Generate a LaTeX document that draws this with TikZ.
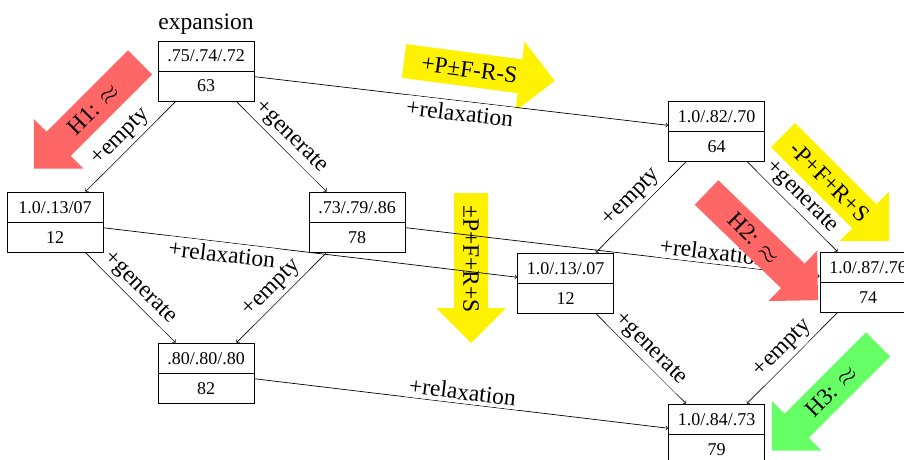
\documentclass[tikz,border=0pt]{standalone}
\usepackage{fontspec}
\setmainfont{Liberation Serif}
% #1 name, #2 colour, #3 x, #4 y, #5 direction, #6 text angle, #7 length, #8 text
\newcommand\bigarrow[8]{%
  \begin{scope}[shift={(#3,#4)}, rotate=#5]
    \fill[#2] (0,-17) -- ({#7-35},-17) -- ({#7-35},-35) -- (#7,0) -- ({#7-35},35) -- ({#7-35},17) -- (0,17) -- cycle;
    \node[bigtext, rotate=#6] (#1) at (66,0) {#8};
  \end{scope}}
% #1 name, #2 x, #3 y, #4 top text, #5 bottom text
\newcommand\statenode[5]{%
  \node[statebox] (#1) at (#2,#3) {};
  \draw[line width=0.8pt] (#1.west) -- (#1.east);
  \node[boxtext] (#1top) at ([yshift=15pt]#1.center) {#4};
  \node[boxtext] (#1bot) at ([yshift=-15pt]#1.center) {#5};}
\begin{document}
\begin{tikzpicture}[x=1pt,y=1pt,
  statebox/.style={draw, line width=0.8pt, fill=white, minimum width=96pt, minimum height=60pt, inner sep=0pt},
  boxtext/.style={font=\fontsize{18}{21.6}\selectfont, inner sep=0pt, text height=12.5pt, text depth=0.5pt},
  edge/.style={->, line width=0.7pt},
  lab/.style={font=\fontsize{23.5}{28}\selectfont, sloped, fill=white},
  bigtext/.style={font=\fontsize{23.5}{28}\selectfont, inner sep=0pt}
]
\useasboundingbox (0,0) rectangle (904,-460);

% background hint arrows
\bigarrow{Yone}{yellow}{404}{-61}{-7.5}{-7.5}{152}{+P±F-R-S}
\bigarrow{Ytwo}{yellow}{471}{-193}{-90}{-90}{150}{±P+F+R+S}
\bigarrow{Ythree}{yellow}{783}{-135}{-45}{-45}{150}{-P+F+R+S}
\bigarrow{Hone}{red!60}{140}{-62.5}{225}{45}{150}{H1: $\approx$}
\bigarrow{Hthree}{green!60}{878}{-344.5}{225}{45}{150}{H3: $\approx$}

% states
\statenode{A}{206}{-71}{.75/.74/.72}{63}
\node[font=\fontsize{23.5}{28}\selectfont, above, yshift=3pt] (exp) at (A.north) {expansion};
\statenode{B}{55}{-222}{1.0/.13/07}{12}
\statenode{C}{357}{-222}{.73/.79/.86}{78}
\statenode{D}{206}{-373}{.80/.80/.80}{82}
\statenode{E}{716.5}{-131}{1.0/.82/.70}{64}
\statenode{F}{565.5}{-283}{1.0/.13/.07}{12}
\statenode{G}{868}{-282}{1.0/.87/.76}{74}
\statenode{H}{716.5}{-434}{1.0/.84/.73}{79}

% transitions
\draw[edge] (A) -- node[lab, above] (lAB) {+empty} (B);
\draw[edge] (A) -- node[lab, above] (lAC) {+generate} (C);
\draw[edge] (A) -- node[lab, below] (lAE) {+relaxation} (E);
\draw[edge] (B) -- node[lab, above] (lBD) {+generate} (D);
\draw[edge] (C) -- node[lab, above] (lCD) {+empty} (D);
\draw[edge] (B) -- node[lab, below, pos=0.29] (lBF) {+relaxation} (F);
\draw[edge] (C) -- node[lab, above, pos=0.74] (lCG) {+relaxation} (G);
\draw[edge] (D) -- node[lab, above] (lDH) {+relaxation} (H);
\draw[edge] (E) -- node[lab, above] (lEF) {+empty} (F);
\draw[edge] (E) -- node[lab, above] (lEG) {+generate} (G);
\draw[edge] (F) -- node[lab, above] (lFH) {+generate} (H);
\draw[edge] (G) -- node[lab, above] (lGH) {+empty} (H);

% foreground hint arrow
\bigarrow{Htwo}{red!60}{706.5}{-192.5}{-44}{-45}{155}{H2: $\approx$}
\end{tikzpicture}
\end{document}
